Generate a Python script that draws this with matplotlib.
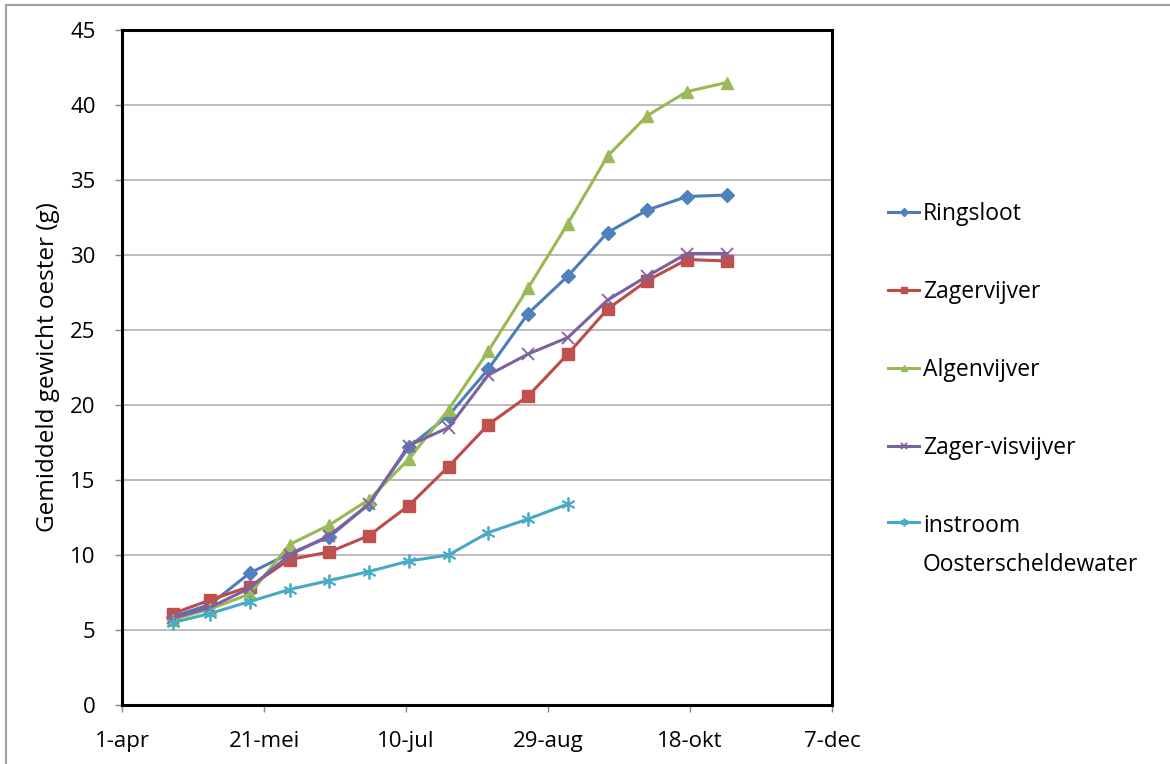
import matplotlib
matplotlib.use("Agg")
import matplotlib.pyplot as plt
from matplotlib.lines import Line2D
import pandas as pd

plt.rcParams['font.family'] = ['Open Sans', 'DejaVu Sans']

# Sampling dates (two-weekly measurements)
sample_dates = ["2011-04-19", "2011-05-02", "2011-05-16", "2011-05-30", "2011-06-13",
                "2011-06-27", "2011-07-11", "2011-07-25", "2011-08-08", "2011-08-22",
                "2011-09-05", "2011-09-19", "2011-10-03", "2011-10-17", "2011-10-31"]

ringsloot = [5.9, 6.7, 8.8, 10.1, 11.2, 13.4, 17.2, 19.3, 22.4, 26.1, 28.6, 31.5, 33.0, 33.9, 34.0]
zagervijver = [6.1, 7.0, 7.9, 9.7, 10.2, 11.3, 13.3, 15.9, 18.7, 20.6, 23.4, 26.4, 28.3, 29.7, 29.6]
algenvijver = [5.7, 6.4, 7.4, 10.7, 12.0, 13.7, 16.4, 19.7, 23.6, 27.8, 32.1, 36.6, 39.3, 40.9, 41.5]
zager_visvijver = [5.8, 6.5, 7.8, 10.0, 11.3, 13.4, 17.3, 18.5, 22.0, 23.4, 24.5, 27.0, 28.6, 30.1, 30.1]
instroom = [5.5, 6.1, 6.9, 7.7, 8.3, 8.9, 9.6, 10.0, 11.5, 12.4, 13.4]

series_labels = ["Ringsloot", "Zagervijver", "Algenvijver", "Zager-visvijver",
                 "instroom\nOosterscheldewater"]

tick_dates = ["2011-04-01", "2011-05-21", "2011-07-10", "2011-08-29", "2011-10-18", "2011-12-07"]
tick_labels = ["1-apr", "21-mei", "10-jul", "29-aug", "18-okt", "7-dec"]
y_ticks = list(range(0, 50, 5))

dates = pd.to_datetime(sample_dates)
tdates = pd.to_datetime(tick_dates)

fig = plt.figure(figsize=(11.7, 7.64), dpi=100)
ax = fig.add_axes([122 / 1170, 1 - 705 / 764, (832 - 122) / 1170, (705 - 30) / 764])

styles = [
    dict(color="#4A7EBB", marker="D", ms=7, mfc="#4F81BD", mec="#4F81BD"),
    dict(color="#BE4B48", marker="s", ms=8.5, mfc="#C0504D", mec="#C0504D"),
    dict(color="#98B954", marker="^", ms=9, mfc="#9BBB59", mec="#9BBB59"),
    dict(color="#7D60A0", marker="x", ms=8, mfc="#8064A2", mec="#8064A2", mew=1.3),
    dict(color="#46AAC5", marker=(6, 2, 0), ms=10, mfc="#4BACC6", mec="#4BACC6", mew=1.3),
]
values = [ringsloot, zagervijver, algenvijver, zager_visvijver, instroom]

handles = []
for vals, lab, st in zip(values, series_labels, styles):
    ln, = ax.plot(dates[:len(vals)], vals, lw=2.2, label=lab, **st)
    handles.append(ln)

ax.set_xlim(tdates[0], tdates[-1])
ax.set_ylim(0, 45)
ax.set_xticks(tdates)
ax.set_xticklabels(tick_labels)
ax.set_yticks(y_ticks)
ax.tick_params(axis="both", labelsize=16, colors="#888888", labelcolor="black",
               direction="out", length=5, width=1)
ax.tick_params(axis="x", pad=14)
ax.tick_params(axis="y", pad=14)
ax.yaxis.grid(True, color="#B0B0B0", lw=1.2)
ax.set_axisbelow(True)
for sp in ax.spines.values():
    sp.set_linewidth(2.2)
    sp.set_color("black")

ax.set_ylabel("Gemiddeld gewicht oester (g)", fontsize=17.5, labelpad=7)

leg = ax.legend(handles=handles, loc="upper left", bbox_to_anchor=(877 / 1170, 1 - 191 / 764),
                bbox_transform=fig.transFigure, frameon=False, fontsize=16.5,
                labelspacing=2.35, handlelength=1.35, handletextpad=0.15, borderpad=0,
                markerscale=0.55)
for t in leg.get_texts():
    t.set_linespacing(1.82)

# keep the handle of the two-line entry level with its first line
for column in leg._legend_handle_box.get_children():
    rows = column.get_children()
    rows[-1].align = "top"

# chart frame
fig.add_artist(Line2D([6 / 1170, 6 / 1170], [0, 1 - 5 / 764], transform=fig.transFigure,
                      color="#A0A0A0", lw=1.5))
fig.add_artist(Line2D([6 / 1170, 1], [1 - 5 / 764, 1 - 5 / 764], transform=fig.transFigure,
                      color="#A0A0A0", lw=1.5))

fig.savefig("out.png", dpi=100)
